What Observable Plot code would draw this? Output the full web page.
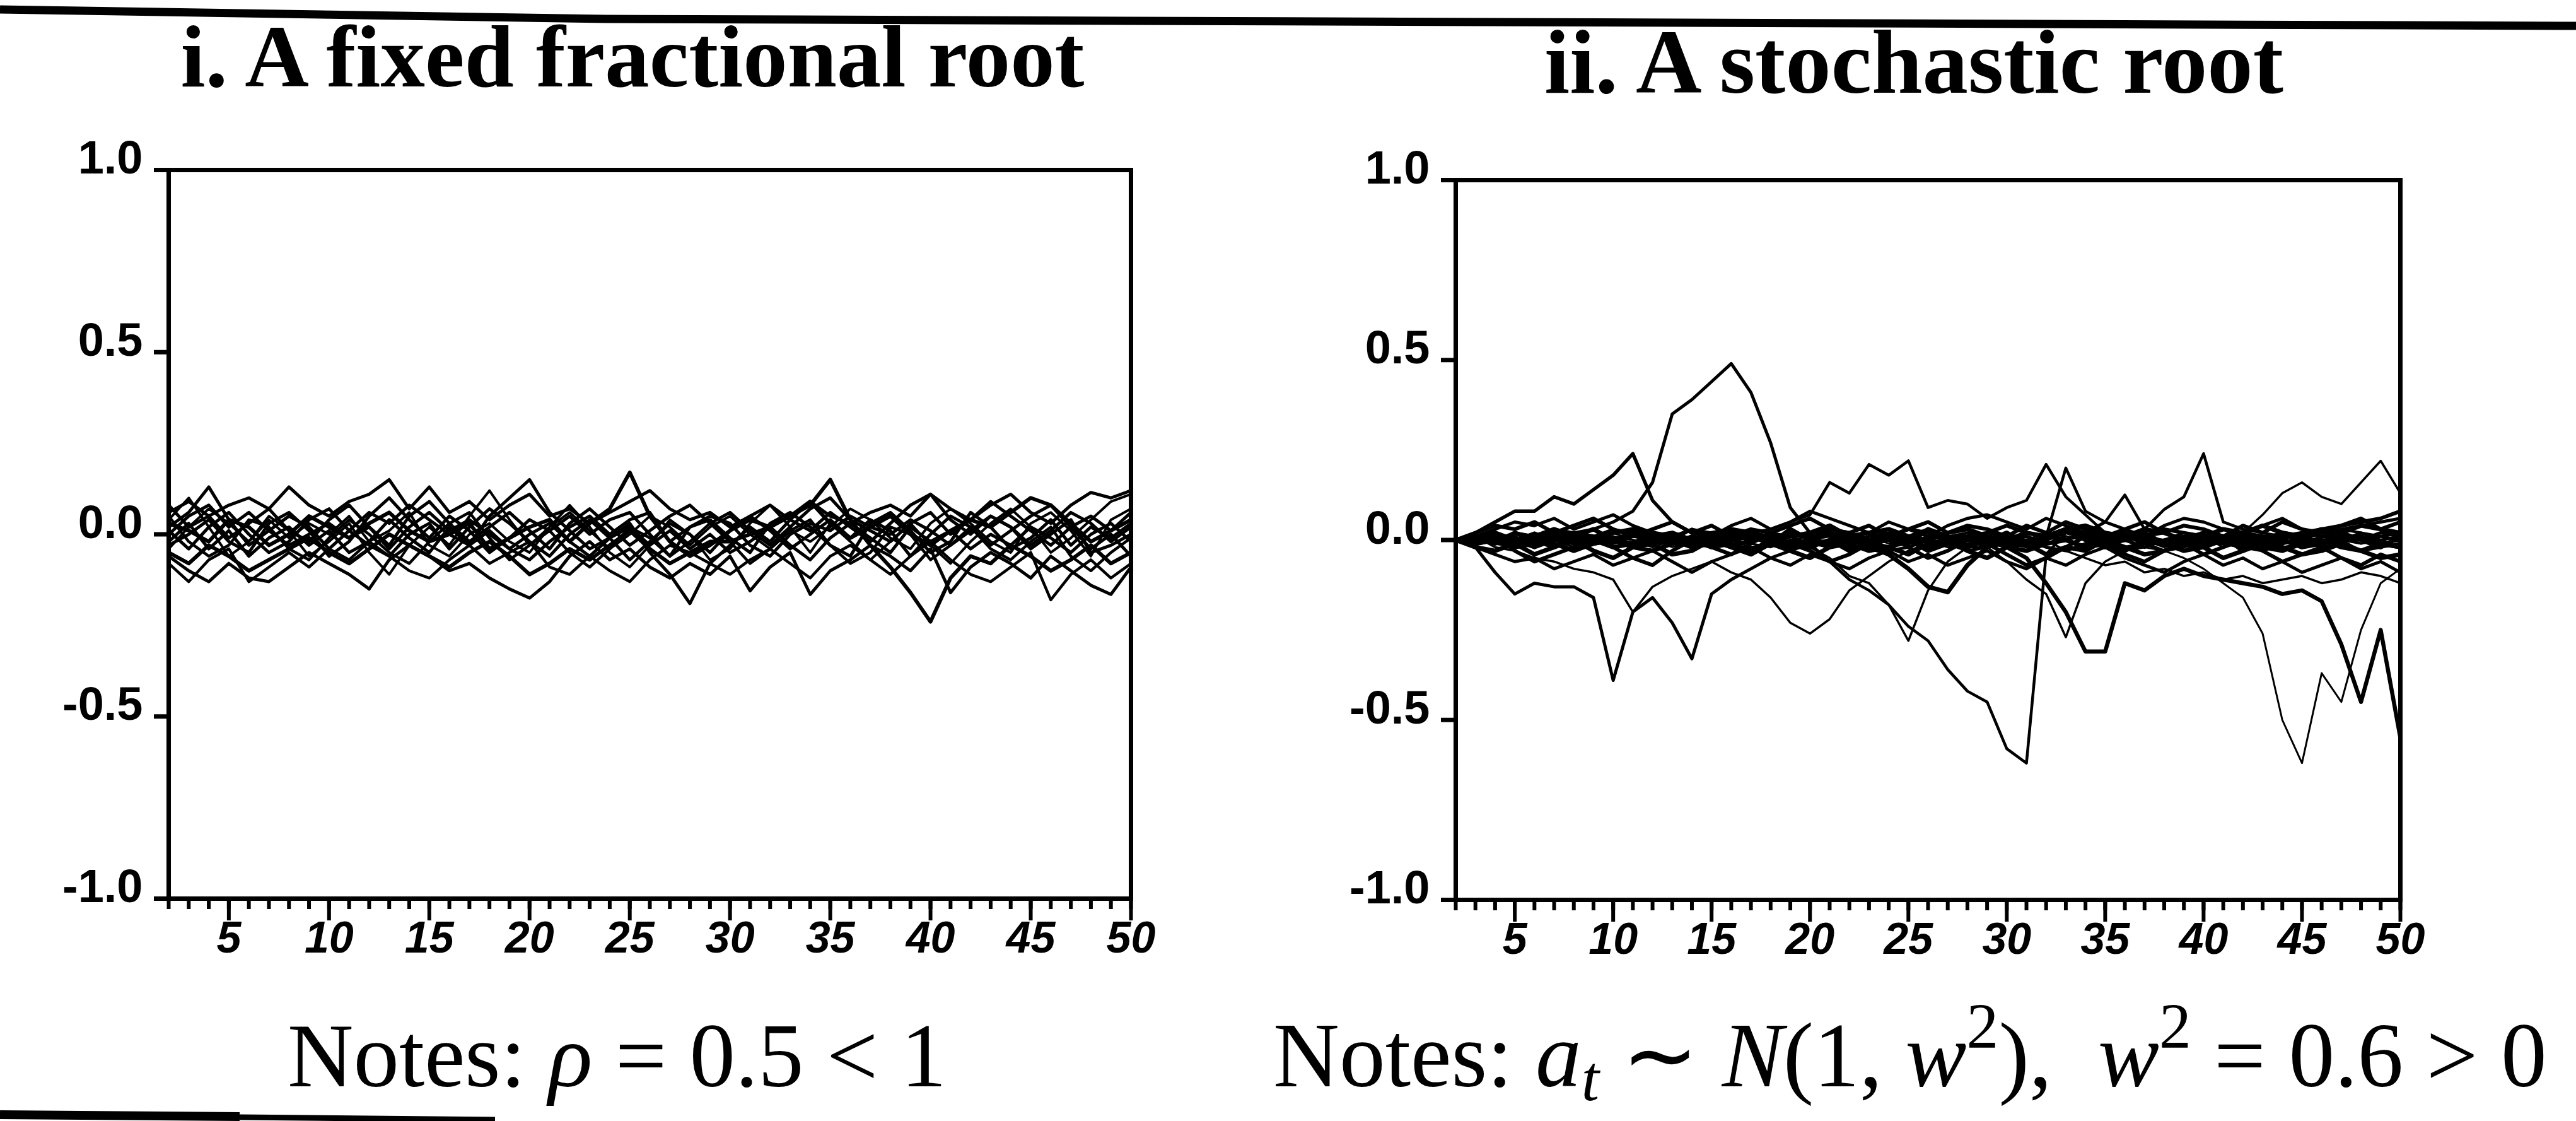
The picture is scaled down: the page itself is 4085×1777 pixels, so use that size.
<!DOCTYPE html>
<html><head><meta charset="utf-8">
<script src="https://cdn.jsdelivr.net/npm/d3@7"></script>
<script src="https://cdn.jsdelivr.net/npm/@observablehq/plot@0.6"></script>
<style>
html,body{margin:0;padding:0;background:#fff;}
#page{position:relative;width:4085px;height:1777px;overflow:hidden;background:#fff;}
.panel{position:absolute;top:0;}
#overlay{position:absolute;left:0;top:0;}
</style></head>
<body><div id="page"><div id="left" class="panel" style="left:0px"></div><div id="right" class="panel" style="left:2040px"></div></div>
<script>
// ---- axes / categories ----
const periods = [2,3,4,5,6,7,8,9,10,11,12,13,14,15,16,17,18,19,20,21,22,23,24,25,26,27,28,29,30,31,32,33,34,35,36,37,38,39,40,41,42,43,44,45,46,47,48,49,50];
const xMajorTicks = [5,10,15,20,25,30,35,40,45,50];
const yTicks = [-1,-0.5,0,0.5,1];
const titleLeft = "i. A fixed fractional root";
const titleRight = "ii. A stochastic root";

// ---- panel i: fixed fractional root (values at t = 2..50) ----
const fixed1 = [0.03,0.01,-0.02,0.04,0.02,-0.03,0.00, 0.05,0.02,-0.01,0.03,0.06,0.01,-0.02, 0.00,0.03,-0.04,-0.01,0.02,0.04,-0.02, 0.03,0.07,0.17,0.05,-0.02,-0.06,-0.03, 0.01,0.04,0.02,0.05,0.09,0.03,-0.01, 0.02,0.05,0.00,-0.03,0.01,0.04,0.02, 0.06,0.10,0.08,0.03,-0.02,0.01,0.04];
const fixed2 = [-0.05,-0.08,-0.03,-0.06,-0.10,-0.07,-0.04, -0.01,-0.05,-0.08,-0.04,0.00,-0.03,-0.06, -0.09,-0.05,-0.02,-0.06,-0.11,-0.08,-0.04, -0.07,-0.03,0.01,-0.04,-0.08,-0.05,-0.02, -0.02,0.00,0.02,0.05,0.08,0.15,0.04, -0.03,-0.09,-0.16,-0.24,-0.12,-0.06,-0.08, -0.03,-0.06,-0.10,-0.07,-0.03,-0.08,-0.05];
const fixed3 = [0.02,0.06,0.13,0.04,-0.03,0.01,0.05, 0.02,-0.04,0.01,0.06,0.03,0.08,0.04, 0.00,-0.03,0.05,0.10,0.15,0.06,0.01, -0.04,-0.01,0.03,-0.05,-0.11,-0.19,-0.08, -0.03,0.02,-0.02,0.04,0.01,0.06,0.02, -0.02,0.03,0.08,0.11,0.04,0.00,0.05, 0.02,-0.03,0.01,0.06,0.03,-0.02,0.02];
const fixed4 = [-0.06,-0.10,-0.13,-0.08,-0.12,-0.13,-0.09, -0.05,-0.08,-0.11,-0.15,-0.07,-0.03,-0.06, -0.10,-0.08,-0.12,-0.15,-0.175,-0.13,-0.06, -0.02,-0.07,-0.04,-0.09,-0.12,-0.08,-0.11, -0.06,-0.155,-0.09,-0.05,-0.165,-0.10,-0.07, -0.03,-0.06,-0.10,-0.04,-0.16,-0.09,-0.05, -0.08,-0.12,-0.06,-0.10,-0.14,-0.165,-0.09];
const fixed5 = [0.06,0.09,0.05,0.08,0.10,0.07,0.13, 0.08,0.05,0.09,0.11,0.15,0.07,0.13, 0.06,0.09,0.04,0.08,0.11,0.05,0.07, 0.03,0.06,0.09,0.12,0.07,0.04,0.06, 0.02,0.05,0.08,0.04,0.09,0.05,0.03, 0.06,0.08,0.05,0.11,0.07,0.04,0.08, 0.11,0.06,0.03,0.08,0.115,0.10,0.12];
const fixed6 = [-0.02,0.03,-0.04,0.01,-0.06,-0.01,0.02, -0.03,0.01,-0.05,-0.02,0.04,-0.01,-0.05, 0.02,-0.03,0.01,-0.04,0.00,0.03,-0.02, -0.06,-0.01,0.02,-0.03,0.01,-0.04,0.00, -0.05,-0.02,0.02,-0.03,-0.07,-0.01,0.03, -0.01,-0.05,0.02,-0.02,0.01,-0.04,0.00, -0.03,0.02,-0.01,-0.05,0.00,0.03,-0.02];
const fixed7 = [0.08,0.02,0.05,-0.01,0.03,0.07,0.01, -0.02,0.04,0.08,0.02,-0.03,0.05,0.09, 0.03,-0.02,0.02,0.06,0.01,-0.04,0.03, 0.07,0.02,-0.03,0.01,0.05,0.08,0.03, 0.06,0.01,-0.03,0.02,0.07,0.10,0.04, 0.01,-0.02,0.03,0.06,0.00,0.04,0.09, 0.05,0.01,-0.03,0.02,0.05,0.01,0.06];
const fixed8 = [-0.08,-0.13,-0.07,-0.04,-0.13,-0.09,-0.05, -0.09,-0.04,-0.07,-0.02,-0.06,-0.10,-0.12, -0.07,-0.03,-0.08,-0.05,-0.02,-0.09,-0.11, -0.06,-0.10,-0.13,-0.07,-0.03,-0.05,-0.08, -0.11,-0.07,-0.04,-0.08,-0.12,-0.06,-0.03, -0.07,-0.11,-0.06,-0.02,-0.07,-0.11,-0.13, -0.09,-0.05,-0.18,-0.11,-0.07,-0.12,-0.08];
const fixed9 = [0.01,-0.04,0.02,0.06,0.00,-0.05,-0.02, 0.04,0.07,0.01,-0.03,-0.06,0.00,0.03, -0.04,0.02,0.07,0.03,-0.02,-0.06,0.00, 0.04,-0.01,-0.07,-0.02,0.03,0.00,-0.05, 0.01,0.05,0.01,-0.04,0.00,0.04,-0.01, 0.04,0.01,-0.06,0.00,0.05,0.02,-0.03, 0.01,0.05,0.08,0.02,-0.04,0.00,-0.06];
const fixed10 = [-0.03,0.00,0.04,-0.02,-0.05,0.03,0.06, 0.01,-0.06,-0.02,0.05,0.10,0.04,-0.01, 0.05,0.01,-0.05,-0.01,0.04,0.01,0.05, 0.00,0.04,0.06,0.00,-0.06,0.02,0.04, -0.01,-0.05,0.03,0.06,0.02,-0.03,-0.06, 0.03,0.06,0.01,-0.05,-0.02,0.06,0.02, -0.04,-0.01,0.04,-0.03,0.02,-0.01,0.03];
const fixed11 = [0.04,0.10,0.02,-0.06,-0.02,0.05,0.01, -0.06,-0.02,0.03,-0.05,-0.11,-0.03,0.02, -0.03,0.05,0.12,0.04,-0.03,0.02,0.08, 0.02,-0.05,-0.09,-0.03,0.04,0.00,-0.07, -0.04,0.03,0.08,0.02,-0.05,0.03,-0.02, -0.07,-0.02,0.03,-0.03,-0.08,-0.02,0.03, 0.07,0.02,-0.05,-0.01,0.04,0.09,0.11];
const fixed12 = [0.00,0.05,0.08,0.02,0.06,0.01,-0.03, 0.00,0.03,-0.01,0.02,-0.04,0.02,0.06, 0.01,0.04,0.00,-0.04,-0.07,-0.02,0.02, 0.05,0.00,0.04,0.06,-0.02,0.02,0.05, 0.03,-0.03,-0.06,0.00,0.03,0.01,0.05, 0.02,0.00,0.04,0.01,-0.03,0.01,0.05, 0.02,-0.04,0.00,0.04,-0.05,-0.03,0.00];
const fixed13 = [-0.04,0.02,0.07,0.03,-0.02,0.04,-0.01, 0.03,0.00,0.05,-0.02,0.01,0.06,-0.03, -0.06,0.00,0.03,-0.02,-0.05,0.02,0.06, 0.01,-0.04,0.00,0.05,0.02,-0.03,0.02, 0.05,0.00,-0.04,0.01,-0.02,0.02,0.07, 0.04,-0.01,-0.04,0.03,0.07,0.03,-0.02, -0.05,0.03,0.06,0.01,-0.06,0.04,0.07];
const fixed14 = [0.05,-0.02,-0.06,-0.03,0.04,0.02,-0.04, -0.07,-0.01,0.04,0.00,-0.05,-0.08,-0.02, 0.03,0.06,-0.01,-0.07,-0.03,0.01,-0.05, -0.09,-0.04,0.02,-0.01,-0.06,-0.02,0.03, -0.02,-0.08,-0.04,0.01,0.04,-0.03,-0.08, -0.05,0.02,0.00,-0.07,-0.03,0.02,-0.04, -0.07,-0.02,0.02,-0.06,-0.10,-0.05,-0.01];

// ---- panel ii: stochastic root (values at t = 2..50) ----
const stochHump = [0.00,0.01,0.00,0.02,0.01,0.03,0.02, 0.03,0.05,0.08,0.16,0.35,0.39,0.44, 0.49,0.41,0.27,0.09,0.02,0.01,-0.01, 0.01,0.02,0.00,-0.02,0.01,0.00,0.02, 0.01,-0.01,0.00,0.02,0.01,-0.02,0.00, 0.01,0.02,0.00,-0.01,0.01,0.02,0.00, -0.01,0.01,0.02,0.00,0.01,-0.01,0.00];
const stochRise = [0.00,0.02,0.05,0.08,0.08,0.12,0.10, 0.14,0.18,0.24,0.11,0.05,0.02,0.01, 0.00,0.02,0.01,-0.01,0.00,0.02,0.01, -0.01,0.00,0.01,0.03,0.01,0.00,-0.02, 0.00,0.01,-0.01,0.00,0.02,0.01,0.00, -0.02,0.00,0.01,0.00,-0.01,0.01,0.00, 0.02,0.00,-0.01,0.01,0.00,0.02,0.01];
const stochDipEarly = [0.00,-0.02,-0.09,-0.15,-0.12,-0.13,-0.13, -0.16,-0.39,-0.20,-0.16,-0.23,-0.33,-0.15, -0.11,-0.08,-0.05,-0.03,-0.01,0.00,-0.02, -0.01,-0.03,-0.02,0.00,-0.01,-0.03,-0.02, -0.01,0.00,-0.02,-0.03,-0.01,0.00,-0.02, -0.01,-0.03,-0.02,0.00,-0.01,-0.02,-0.03, -0.01,0.00,-0.02,-0.01,-0.03,-0.02,-0.01];
const stochDip20 = [0.00,0.01,-0.02,-0.03,-0.05,-0.06,-0.08, -0.09,-0.11,-0.20,-0.13,-0.10,-0.08,-0.06, -0.09,-0.11,-0.16,-0.23,-0.26,-0.22,-0.14, -0.10,-0.06,-0.03,-0.01,0.00,-0.02,0.01, 0.00,-0.02,-0.01,0.01,0.00,-0.01,-0.03, -0.02,0.00,-0.01,0.01,-0.02,0.00,-0.01, 0.00,-0.02,-0.01,0.00,-0.03,-0.01,-0.02];
const stochPeaks = [0.00,0.01,0.00,0.02,0.01,0.00,0.02, 0.01,0.03,0.02,0.00,0.01,0.03,0.02, 0.01,0.02,0.03,0.05,0.07,0.16,0.13, 0.21,0.18,0.22,0.09,0.11,0.10,0.06, 0.09,0.11,0.21,0.12,0.07,0.02,0.01, 0.03,0.02,0.00,0.01,0.03,0.02,0.01, 0.00,0.02,0.01,0.03,0.02,0.00,0.01];
const stochTrough27 = [0.00,-0.01,0.00,-0.02,-0.01,0.01,-0.01, 0.00,-0.02,-0.01,0.01,0.00,-0.02,-0.01, 0.00,0.01,-0.01,-0.02,0.00,-0.01,0.01, -0.02,-0.04,-0.08,-0.13,-0.145,-0.07,-0.02, 0.00,-0.01,0.01,0.00,-0.02,-0.01,0.00, 0.01,-0.01,0.00,-0.02,0.00,0.01,-0.01, 0.00,-0.02,-0.01,0.00,0.01,-0.01,-0.02];
const stochDip31 = [0.00,0.01,-0.01,0.00,0.02,0.00,-0.01, 0.01,0.00,-0.02,0.00,0.01,-0.01,0.00, 0.02,0.01,0.00,-0.02,-0.01,-0.06,-0.11, -0.14,-0.18,-0.24,-0.28,-0.36,-0.42,-0.45, -0.58,-0.62,-0.04,0.02,0.02,0.00,0.01, -0.01,0.00,0.02,0.01,-0.01,0.00,0.01, 0.00,-0.01,0.01,0.00,0.02,0.01,0.00];
const stochLate = [0.00,-0.01,0.01,0.00,-0.02,0.00,0.01, -0.01,0.00,0.02,0.00,-0.01,0.01,0.00, -0.02,0.00,0.01,-0.01,0.00,0.02,0.00, -0.01,0.01,0.00,-0.02,-0.01,0.00,0.01, -0.02,-0.05,-0.12,-0.20,-0.31,-0.31,-0.12, -0.14,-0.10,-0.08,-0.10,-0.11,-0.12,-0.13, -0.15,-0.14,-0.17,-0.29,-0.45,-0.25,-0.55];
const stochSpikes = [0.00,0.00,0.01,-0.01,0.00,0.02,0.01, 0.00,-0.01,0.01,0.00,0.02,0.00,-0.01, 0.01,0.00,0.02,0.01,-0.01,0.00,0.01, 0.02,0.00,-0.01,0.01,0.00,0.02,0.01, 0.00,-0.01,0.01,0.20,0.08,0.05,0.125, 0.03,0.085,0.12,0.24,0.05,0.03,0.02, 0.01,0.00,0.02,0.01,0.00,0.01,0.02];
const stochEndUp = [0.00,0.01,0.00,-0.01,0.01,0.02,0.00, 0.01,0.02,0.00,-0.01,0.01,0.00,0.02, 0.01,0.00,0.01,0.02,0.00,0.01,-0.01, 0.00,0.02,0.01,0.00,0.01,0.02,0.00, 0.01,0.00,0.02,0.01,0.00,0.01,0.02, 0.01,0.00,0.01,0.02,0.01,0.02,0.07, 0.13,0.16,0.12,0.10,0.16,0.22,0.13];
const stochDip45 = [0.00,-0.01,0.00,0.01,-0.01,0.00,-0.02, 0.00,0.01,-0.01,0.00,-0.02,0.00,0.01, -0.01,0.00,0.01,-0.02,0.00,-0.01,0.00, 0.01,-0.01,0.00,-0.02,0.00,0.01,-0.01, 0.00,-0.02,-0.01,0.00,0.01,-0.01,-0.02, -0.02,-0.03,-0.05,-0.08,-0.12,-0.16,-0.26, -0.50,-0.62,-0.37,-0.45,-0.25,-0.12,-0.08];
const stochDip33 = [0.00,0.01,-0.01,0.00,0.01,-0.02,0.00, -0.01,0.01,0.00,-0.02,0.00,0.01,-0.01, 0.00,-0.02,-0.01,0.00,0.01,-0.01,0.00, -0.02,0.00,0.01,-0.01,0.00,-0.02,-0.02, -0.06,-0.11,-0.15,-0.27,-0.12,-0.06,-0.03, -0.01,0.00,-0.02,0.01,0.00,-0.01,0.00, -0.02,-0.01,0.00,0.01,-0.01,0.00,-0.02];
const stochDip25 = [0.00,-0.01,0.00,0.01,-0.01,0.00,0.01, -0.01,0.00,0.02,-0.01,0.00,0.01,-0.02, 0.00,0.01,-0.01,0.00,-0.02,-0.05,-0.10, -0.12,-0.18,-0.28,-0.14,-0.06,-0.02,0.00, 0.01,-0.01,0.00,0.02,0.00,-0.01,0.01, 0.00,-0.02,0.00,0.01,-0.01,0.00,0.01, -0.01,0.00,0.02,0.00,-0.01,0.01,0.00];
const stochLow = [0.00,0.00,-0.01,-0.02,-0.01,0.00,-0.02, -0.01,0.00,-0.02,-0.01,0.00,-0.01,-0.02, 0.00,-0.01,-0.02,0.00,-0.01,-0.02,-0.01, 0.00,-0.02,-0.01,0.00,-0.02,-0.01,0.00, -0.01,-0.02,0.00,-0.03,-0.05,-0.07,-0.06, -0.09,-0.08,-0.10,-0.09,-0.11,-0.10,-0.12, -0.11,-0.10,-0.12,-0.11,-0.09,-0.10,-0.12];
const stochFlat1 = [0.00,0.01,-0.01,0.02,0.00,-0.02,0.01, 0.03,0.00,-0.01,0.02,0.01,-0.02,0.00, 0.02,0.01,-0.01,0.03,0.00,-0.02,0.01, 0.02,0.00,-0.01,0.03,0.01,-0.02,0.00, 0.02,-0.01,0.01,0.03,0.00,-0.02,0.01, 0.02,-0.01,0.00,0.02,0.01,-0.03,0.00, 0.02,0.01,-0.01,0.02,0.00,-0.02,0.01];
const stochFlat2 = [0.00,-0.02,-0.03,-0.01,-0.04,-0.02,0.00, -0.03,-0.05,-0.02,-0.01,-0.04,-0.03,0.00, -0.02,-0.04,-0.01,-0.03,-0.05,-0.02,-0.01, -0.03,-0.02,-0.04,-0.01,0.00,-0.03,-0.05, -0.02,-0.01,-0.04,-0.02,-0.03,0.00,-0.02, -0.04,-0.03,-0.01,-0.02,-0.05,-0.03,-0.01, -0.02,-0.04,-0.03,-0.01,-0.03,-0.05,-0.04];
const stochFlat3 = [0.00,0.02,0.04,0.03,0.05,0.02,0.04, 0.06,0.03,0.01,0.03,0.05,0.02,0.04, 0.01,0.03,0.02,0.04,0.06,0.03,0.02, 0.04,0.01,0.03,0.05,0.02,0.04,0.03, 0.01,0.04,0.02,0.05,0.03,0.01,0.03, 0.05,0.02,0.04,0.03,0.01,0.04,0.02, 0.05,0.03,0.02,0.04,0.06,0.03,0.05];
const stochFlat4 = [0.00,-0.01,0.01,-0.03,-0.06,-0.04,-0.02, 0.01,-0.02,-0.05,-0.07,-0.03,0.00,-0.02, -0.04,-0.01,0.02,-0.01,-0.03,-0.06,-0.04, -0.01,0.01,-0.02,-0.05,-0.03,0.00,-0.01, -0.04,-0.07,-0.05,-0.02,0.01,-0.01,-0.04, -0.06,-0.03,-0.01,-0.04,-0.02,0.00,-0.03, -0.06,-0.04,-0.02,-0.05,-0.07,-0.04,-0.06];
const stochFlat5 = [0.00,0.01,0.03,0.05,0.04,0.06,0.03, 0.05,0.07,0.04,0.02,0.00,0.03,0.01, 0.04,0.06,0.03,0.05,0.08,0.06,0.04, 0.02,0.05,0.03,0.01,0.04,0.06,0.07, 0.05,0.03,0.06,0.04,0.02,0.05,0.03, 0.01,0.04,0.06,0.05,0.03,0.02,0.04, 0.06,0.03,0.01,0.03,0.04,0.05,0.06];
const stochFlat6 = [0.00,-0.02,-0.04,-0.06,-0.05,-0.08,-0.06, -0.04,-0.07,-0.05,-0.03,-0.06,-0.09,-0.06, -0.04,-0.02,-0.05,-0.07,-0.04,-0.06,-0.08, -0.05,-0.03,-0.06,-0.04,-0.07,-0.05,-0.03, -0.06,-0.08,-0.05,-0.07,-0.04,-0.02,-0.05, -0.07,-0.09,-0.06,-0.04,-0.07,-0.05,-0.08, -0.06,-0.09,-0.07,-0.05,-0.08,-0.06,-0.09];
const stochFlat7 = [0.00,0.00,0.01,0.00,-0.01,0.01,0.02, 0.01,0.00,0.02,0.01,-0.01,0.00,0.02, 0.03,0.01,0.00,0.02,0.01,0.03,0.02, 0.00,0.01,0.03,0.02,0.00,0.01,0.02, 0.04,0.02,0.01,0.03,0.02,0.00,0.02, 0.01,0.03,0.02,0.01,0.00,0.02,0.01, 0.01,0.02,0.03,0.04,0.05,0.06,0.08];
const stochFlat8 = [0.00,-0.01,0.00,-0.02,0.00,-0.01,-0.03, -0.01,0.00,-0.02,-0.03,-0.01,0.00,-0.02, -0.01,-0.03,0.00,-0.01,-0.02,0.00,-0.03, -0.01,-0.02,0.00,-0.03,-0.01,-0.02,0.00, -0.02,-0.03,-0.01,0.00,-0.02,-0.01,-0.03, 0.00,-0.01,-0.03,-0.02,0.00,-0.01,-0.02, -0.03,-0.01,0.00,-0.02,-0.03,-0.01,-0.02];
const stochFlat9 = [0.00,0.01,0.02,0.00,0.01,0.03,0.01, 0.00,0.02,0.03,0.01,0.02,0.00,0.01, 0.03,0.02,0.00,0.01,0.02,0.04,0.01, 0.02,0.03,0.01,0.00,0.02,0.03,0.01, 0.00,0.02,0.01,0.03,0.04,0.02,0.01, 0.03,0.02,0.00,0.01,0.03,0.02,0.04, 0.02,0.01,0.03,0.02,0.04,0.03,0.02];

// ---- styling (not data) ----
const leftList = [fixed1,fixed2,fixed3,fixed4,fixed5,fixed6,fixed7,fixed8,fixed9,fixed10,fixed11,fixed12,fixed13,fixed14];
const leftWidths = [6,6,5,5,5,5,5,4.5,5,5,4,5,4,4.5];
const rightList = [stochFlat1,stochFlat2,stochFlat3,stochFlat4,stochFlat5,stochFlat6,stochFlat7,stochFlat8,stochFlat9,
  stochHump,stochRise,stochDipEarly,stochDip20,stochPeaks,stochTrough27,stochDip31,stochLate,stochSpikes,stochEndUp,stochDip45,stochDip33,stochDip25,stochLow];
const rightWidths = [7,7,6,6,5,5,6,7,7, 5,5.5,5,3.5,4.5,7,4.5,6.5,4.5,3.5,3,3.5,3.5,3.5];

const FONT_AX = "'Liberation Sans Narrow','Liberation Sans',Arial,sans-serif";

function panel(list, widths, m) {
  return Plot.plot({
    width: m.w, height: 1600,
    marginLeft: m.l, marginRight: m.r, marginTop: m.t, marginBottom: m.b,
    x: {domain: [2, 50]},
    y: {domain: [-1, 1]},
    style: {background: "transparent", fontFamily: FONT_AX, color: "#000", overflow: "visible"},
    marks: [
      ...list.map((vals, k) => Plot.line(vals, {x: (d, i) => periods[i], y: d => d, stroke: "#000", strokeWidth: widths[k], strokeLinejoin: "round", strokeLinecap: "round"})),
      Plot.frame({stroke: "#000", strokeWidth: 7}),
      Plot.axisY(yTicks, {tickSize: 23, strokeWidth: 7, tickFormat: () => "", label: null}),
      Plot.axisY(yTicks, {tickSize: 0, tickPadding: 41, dy: -18, tickFormat: d => d.toFixed(1), fontSize: 74, fontWeight: "bold", label: null}),
      Plot.axisX(periods, {tickSize: 17, strokeWidth: 6, tickFormat: () => "", label: null}),
      Plot.axisX(xMajorTicks, {tickSize: 35, strokeWidth: 6, tickFormat: () => "", label: null}),
      Plot.axisX(xMajorTicks, {tickSize: 0, tickPadding: 36, fontSize: 70, fontWeight: "bold", fontStyle: "italic", tickFormat: d => String(d), label: null})
    ]
  });
}

document.getElementById("left").appendChild(panel(leftList, leftWidths, {w: 2000, l: 267, r: 207, t: 269, b: 176}));
document.getElementById("right").appendChild(panel(rightList, rightWidths, {w: 2045, l: 268, r: 279, t: 285, b: 174}));

// ---- overlay: titles, notes, rules ----
const NS = "http://www.w3.org/2000/svg";
const ov = document.createElementNS(NS, "svg");
ov.setAttribute("id", "overlay");
ov.setAttribute("width", 4085); ov.setAttribute("height", 1777);
document.getElementById("page").appendChild(ov);

function poly(points, w) {
  const p = document.createElementNS(NS, "polyline");
  p.setAttribute("points", points.map(q => q.join(",")).join(" "));
  p.setAttribute("fill", "none"); p.setAttribute("stroke", "#000");
  p.setAttribute("stroke-width", w);
  ov.appendChild(p);
}
poly([[0,15],[960,30],[4085,41]], 13);
poly([[0,1767],[380,1770]], 14);
poly([[380,1771],[785,1775]], 9);

function rich(x, y, parts, fs, anchor, family, weight) {
  const t = document.createElementNS(NS, "text");
  t.setAttribute("x", x); t.setAttribute("y", y);
  t.setAttribute("text-anchor", anchor);
  t.setAttribute("font-family", family);
  t.setAttribute("font-weight", weight);
  t.setAttribute("font-size", fs);
  t.setAttribute("fill", "#000");
  t.style.whiteSpace = "pre";
  let cur = 0;
  for (const p of parts) {
    const s = document.createElementNS(NS, "tspan");
    const shift = p.sub ? 0.15 * fs : p.sup ? -0.42 * fs : 0;
    if (shift !== cur) { s.setAttribute("dy", shift - cur); cur = shift; }
    if (p.sub || p.sup) s.setAttribute("font-size", 0.7 * fs);
    if (p.i) s.setAttribute("font-style", "italic");
    s.textContent = p.t;
    t.appendChild(s);
  }
  ov.appendChild(t);
  return t;
}
function fitted(x, y, parts, target, anchor, family, weight) {
  let fs = 100;
  let t = rich(x, y, parts, fs, anchor, family, weight);
  const w = t.getBBox().width;
  t.remove();
  fs = fs * target / w;
  return rich(x, y, parts, fs, anchor, family, weight);
}
const SERIF = "'Liberation Serif','Times New Roman',serif";
fitted(1003, 137, [{t: titleLeft}], 1433, "middle", SERIF, "bold");
fitted(3035, 147, [{t: titleRight}], 1172, "middle", SERIF, "bold");
fitted(456, 1722, [{t: "Notes: "}, {t: "ρ", i: true}, {t: " = 0.5 < 1"}], 1045, "start", SERIF, "normal");
fitted(2019, 1722, [{t: "Notes: "}, {t: "a", i: true}, {t: "t", i: true, sub: true}, {t: " ∼ "}, {t: "N", i: true}, {t: "(1, "}, {t: "w", i: true}, {t: "2", sup: true}, {t: "),  "}, {t: "w", i: true}, {t: "2", sup: true}, {t: " = 0.6 > 0"}], 2020, "start", SERIF, "normal");
</script>
</body></html>
